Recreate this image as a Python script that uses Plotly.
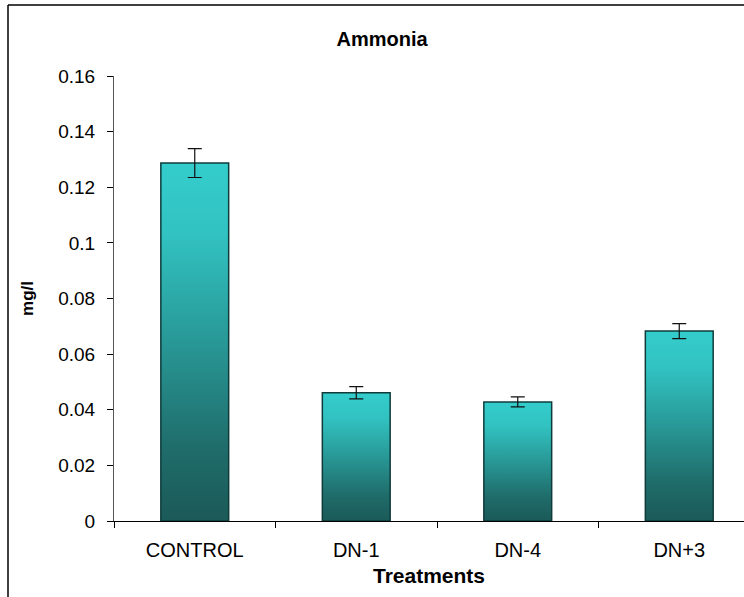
import plotly.graph_objects as go

# ---- data ----
categories = ["CONTROL", "DN-1", "DN-4", "DN+3"]
values = [0.1287, 0.0461, 0.0428, 0.0683]
errors = [0.0052, 0.0022, 0.0018, 0.0027]
y_tick_values = [0, 0.02, 0.04, 0.06, 0.08, 0.1, 0.12, 0.14, 0.16]
y_tick_labels = ["0", "0.02", "0.04", "0.06", "0.08", "0.1", "0.12", "0.14", "0.16"]

W, H = 744, 597
ML, MR, MT, MB = 114, 0, 76, 76
PW, PH = W - ML - MR, H - MT - MB
CAT_PX = 161.5
x_lo = -0.5
x_hi = x_lo + PW / CAT_PX
BAR_W = 0.42

FONT = "Liberation Sans, Arial, sans-serif"
gradient = [[0.0, "#1b5a58"], [0.2, "#1f6c6a"], [0.5, "#289896"], [0.8, "#31c2c1"], [1.0, "#34cdcc"]]

fig = go.Figure()

for i, (cat, v) in enumerate(zip(categories, values)):
    xs = [i - BAR_W / 2, i - BAR_W / 2, i + BAR_W / 2, i + BAR_W / 2, i - BAR_W / 2]
    ys = [0, v, v, 0, 0]
    fig.add_trace(go.Scatter(
        x=xs, y=ys, mode="lines", fill="toself",
        fillgradient=dict(type="vertical", colorscale=gradient),
        line=dict(color="#0f3c3b", width=1.5),
        name=cat, showlegend=False, hoverinfo="skip",
    ))

fig.add_trace(go.Scatter(
    x=list(range(len(categories))), y=values, mode="markers",
    marker=dict(size=1, opacity=0),
    error_y=dict(type="data", array=errors, visible=True, color="#111111", thickness=1.2, width=7),
    showlegend=False,
))

fig.update_layout(
    width=W, height=H,
    margin=dict(l=ML, r=MR, t=MT, b=MB),
    paper_bgcolor="white", plot_bgcolor="white",
    font=dict(family=FONT, size=19, color="black"),
    title=dict(text="<b>Ammonia</b>", x=382 / W, xref="container", xanchor="center",
               y=1 - 39 / H, yref="container", yanchor="middle",
               font=dict(family=FONT, size=20, color="black")),
    xaxis=dict(
        range=[x_lo, x_hi], showgrid=False, zeroline=False,
        showline=True, linecolor="black", linewidth=1,
        tickmode="array", tickvals=list(range(len(categories))), ticktext=categories,
        ticks="", ticklabelstandoff=11, tickfont=dict(size=20),
        minor=dict(tickmode="array", tickvals=[k - 0.5 for k in range(len(categories) + 1)],
                   ticks="outside", ticklen=6, tickcolor="black", tickwidth=1, showgrid=False),
        title=dict(text="<b>Treatments</b>", standoff=8,
                   font=dict(family=FONT, size=21)),
        fixedrange=True,
    ),
    yaxis=dict(
        range=[0, 0.16], showgrid=False, zeroline=False,
        showline=True, linecolor="#555555", linewidth=1,
        tickmode="array", tickvals=y_tick_values, ticktext=y_tick_labels,
        ticks="outside", ticklen=6, tickcolor="black", ticklabelstandoff=8,
        tickfont=dict(size=19),
        title=dict(text="<b>mg/l</b>", standoff=20, font=dict(family=FONT, size=17)),
        fixedrange=True,
    ),
)

# outer chart frame (left and top edges visible)
fx = (8 - ML) / PW
fy = 1 + (MT - 5) / PH
fig.add_shape(type="line", xref="paper", yref="paper", x0=fx, x1=fx, y0=-1, y1=fy,
              line=dict(color="black", width=1.5))
fig.add_shape(type="line", xref="paper", yref="paper", x0=fx, x1=1.2, y0=fy, y1=fy,
              line=dict(color="black", width=1.5))

fig.write_html("out.html", config={"displayModeBar": False},
               post_script="document.body.style.margin='0';")
